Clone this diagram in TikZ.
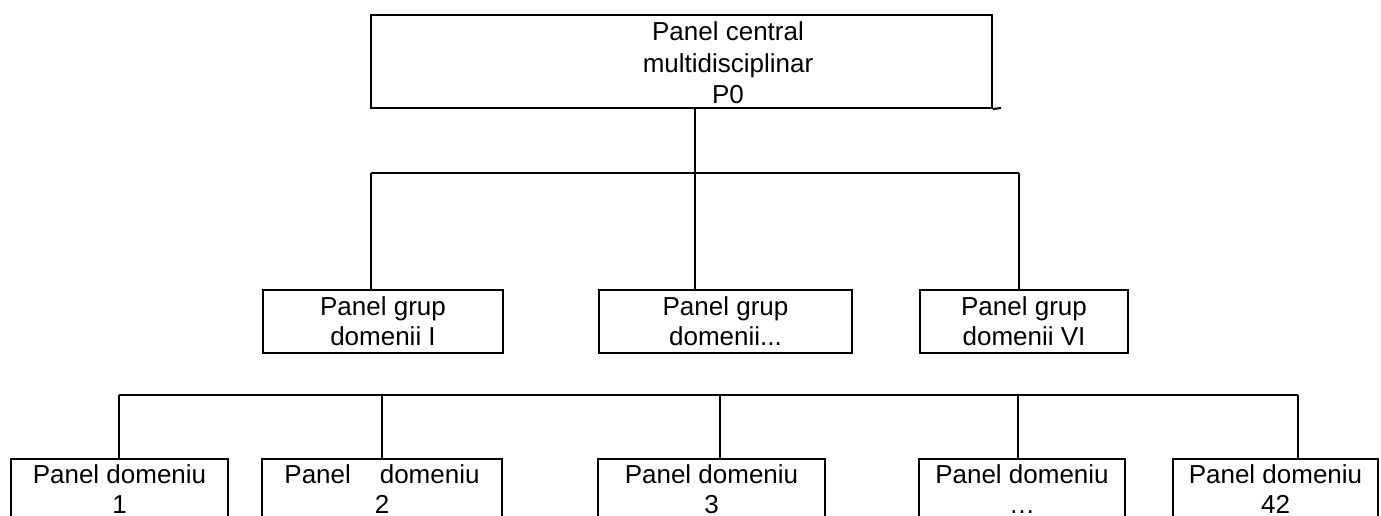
\documentclass[tikz,border=0pt]{standalone}
\usepackage{fontspec}
\setmainfont{Liberation Sans}
\begin{document}
\begin{tikzpicture}[x=1pt,y=-1pt,
  box/.style={draw, line width=2pt, inner sep=0pt, align=center, font=\fontsize{26}{30}\selectfont},
  wire/.style={line width=1.8pt},
  txt/.style={inner sep=0pt, align=center, font=\fontsize{26}{31.5}\selectfont}]
\useasboundingbox (0,0) rectangle (1381,515);
\fill[white] (0,0) rectangle (1381,515);
\clip (0,0) rectangle (1381,515);

% top panel
\node[box, minimum width=621pt, minimum height=93pt] (p0) at (681.5,61.5) {};
\node[txt] (p0t) at (728,63.2) {Panel central\\multidisciplinar\\P0};
\coordinate (ledge) at (1001,108);
\draw[line width=2pt] (p0.south east) -- (ledge);

% group panels
\node[box, minimum width=240pt, minimum height=63pt] (g1) at (383,321) {Panel grup\\domenii I};
\node[box, minimum width=253pt, minimum height=63pt] (g2) at (725.5,321) {Panel grup\\domenii...};
\node[box, minimum width=208pt, minimum height=63pt] (g3) at (1024,321) {Panel grup\\domenii VI};

\coordinate (ja) at (695,173);
\coordinate (jl) at (371,173);
\coordinate (jr) at (1019,173);
\draw[wire] (p0.south -| ja) -- (ja);
\draw[wire] (jl) -- (jr);
\draw[wire] (jl) -- (jl |- g1.north);
\draw[wire] (ja) -- (ja |- g2.north);
\draw[wire] (jr) -- (jr |- g3.north);

% domain panels
\node[box, minimum width=217pt, minimum height=59.4pt] (d1) at (119.5,488.7) {Panel domeniu\\1};
\node[box, minimum width=240pt, minimum height=59.4pt] (d2) at (382,488.7) {Panel\ \ \ \ domeniu\\2};
\node[box, minimum width=227pt, minimum height=59.4pt] (d3) at (711.5,488.7) {Panel domeniu\\3};
\node[box, minimum width=206pt, minimum height=59.4pt] (d4) at (1022,488.7) {Panel domeniu\\…};
\node[box, minimum width=205pt, minimum height=59.4pt] (d5) at (1275.5,488.7) {Panel domeniu\\42};

\coordinate (b1) at (119,395);
\coordinate (b2) at (382,395);
\coordinate (b3) at (720,395);
\coordinate (b4) at (1018,395);
\coordinate (b5) at (1298,395);
\draw[wire] (b1) -- (b5);
\draw[wire] (b1) -- (b1 |- d1.north);
\draw[wire] (b2) -- (b2 |- d2.north);
\draw[wire] (b3) -- (b3 |- d3.north);
\draw[wire] (b4) -- (b4 |- d4.north);
\draw[wire] (b5) -- (b5 |- d5.north);
\end{tikzpicture}
\end{document}
